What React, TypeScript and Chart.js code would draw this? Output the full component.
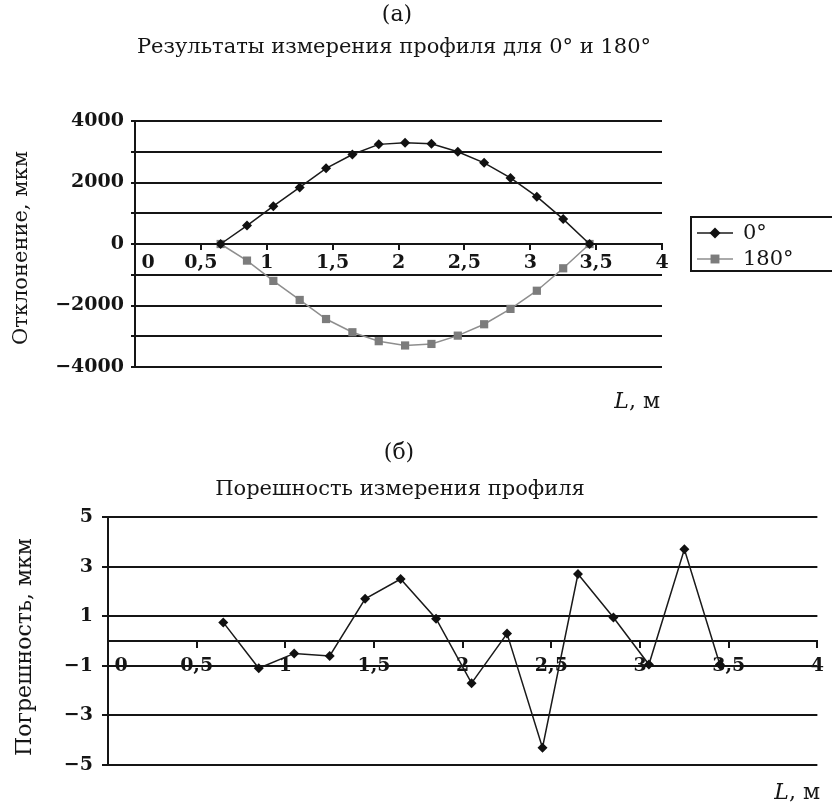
import React, { useEffect, useRef } from 'react';
import { Chart, registerables } from 'chart.js';

Chart.register(...registerables);

// ---- data ----
const L_VALUES = [0.65, 0.85, 1.05, 1.25, 1.45, 1.65, 1.85, 2.05, 2.25, 2.45, 2.65, 2.85, 3.05, 3.25, 3.45];
const DEV_0 = [0, 600, 1230, 1840, 2460, 2910, 3240, 3290, 3260, 3000, 2640, 2150, 1540, 810, 0];
const DEV_180 = [0, -540, -1200, -1820, -2440, -2870, -3160, -3300, -3250, -2980, -2610, -2110, -1520, -790, 0];
const ERR = [0.75, -1.1, -0.5, -0.6, 1.7, 2.5, 0.9, -1.7, 0.3, -4.3, 2.7, 0.95, -0.95, 3.7, -0.95];
const SERIES_LABELS = ['0°', '180°'];
const TOP_Y_LABELS = [4000, 2000, 0, -2000, -4000];
const BOTTOM_Y_LABELS = [5, 3, 1, 0, -1, -3, -5];
const TITLE_A = 'Результаты измерения профиля для 0° и 180°';
const TITLE_B = 'Порешность измерения профиля';
const Y_TITLE_A = 'Отклонение, мкм';
const Y_TITLE_B = 'Погрешность, мкм';

const FAMILY = '"DejaVu Serif", "Liberation Serif", serif';
const INK = '#151515';

const fmt = (v: number) => {
  const s = String(Math.abs(v)).replace('.', ',');
  return v < 0 ? '\u2212' + s : s;
};
const xTickLabel = (v: number) => (v === 0 ? '\u2007\u20070' : fmt(v));

type Part = { text: string; italic?: boolean };
type TextItem = { parts: Part[]; x: number; y: number; size: number; align?: 'left' | 'center' | 'right'; rotate?: number; family?: string };

const textPlugin = {
  id: 'textLayer',
  afterDraw(chart: any, _args: any, opts: any) {
    const ctx: CanvasRenderingContext2D = chart.ctx;
    const items: TextItem[] = (opts && opts.items) || [];
    for (const it of items) {
      ctx.save();
      ctx.translate(it.x, it.y);
      if (it.rotate) ctx.rotate(it.rotate);
      ctx.textBaseline = 'middle';
      ctx.textAlign = 'left';
      ctx.fillStyle = INK;
      const fam = it.family || FAMILY;
      const fontOf = (p: Part) => `${p.italic ? 'italic ' : ''}${it.size}px ${fam}`;
      const widths = it.parts.map((p) => {
        ctx.font = fontOf(p);
        return ctx.measureText(p.text).width;
      });
      const total = widths.reduce((a, b) => a + b, 0);
      let x = it.align === 'left' ? 0 : it.align === 'right' ? -total : -total / 2;
      it.parts.forEach((p, i) => {
        ctx.font = fontOf(p);
        ctx.fillText(p.text, x, 0);
        x += widths[i];
      });
      ctx.restore();
    }
  },
};

function drawMarker(ctx: CanvasRenderingContext2D, style: string, x: number, y: number, r: number, color: string) {
  ctx.save();
  ctx.fillStyle = color;
  ctx.beginPath();
  if (style === 'rectRot') {
    ctx.moveTo(x, y - r);
    ctx.lineTo(x + r, y);
    ctx.lineTo(x, y + r);
    ctx.lineTo(x - r, y);
    ctx.closePath();
  } else {
    const h = r * Math.SQRT1_2;
    ctx.rect(x - h, y - h, 2 * h, 2 * h);
  }
  ctx.fill();
  ctx.restore();
}

const boxLegendPlugin = {
  id: 'boxLegend',
  afterDraw(chart: any, _args: any, opts: any) {
    if (!opts || !opts.display) return;
    const ctx: CanvasRenderingContext2D = chart.ctx;
    ctx.save();
    ctx.strokeStyle = INK;
    ctx.lineWidth = 2;
    ctx.strokeRect(opts.left, opts.top, opts.width, opts.height);
    chart.data.datasets.forEach((ds: any, i: number) => {
      const y = opts.rowY[i];
      ctx.strokeStyle = ds.borderColor;
      ctx.lineWidth = ds.borderWidth;
      ctx.beginPath();
      ctx.moveTo(opts.lineX1, y);
      ctx.lineTo(opts.lineX2, y);
      ctx.stroke();
      drawMarker(ctx, ds.pointStyle, (opts.lineX1 + opts.lineX2) / 2, y, ds.pointRadius + 0.5, ds.pointBackgroundColor);
      ctx.fillStyle = INK;
      ctx.font = `${opts.size}px ${FAMILY}`;
      ctx.textBaseline = 'middle';
      ctx.textAlign = 'left';
      ctx.fillText(ds.label, opts.textX, y + 1);
    });
    ctx.restore();
  },
};

const tickFont = { family: FAMILY, size: 19, weight: 'bold' as const };

function makeTopConfig(): any {
  return {
    type: 'line',
    data: {
      datasets: [
        {
          label: SERIES_LABELS[0],
          data: L_VALUES.map((x, i) => ({ x, y: DEV_0[i] })),
          borderColor: '#1a1a1a',
          borderWidth: 1.5,
          pointStyle: 'rectRot',
          pointRadius: 5,
          pointBackgroundColor: '#111',
          pointBorderColor: '#111',
          pointBorderWidth: 0,
          tension: 0,
        },
        {
          label: SERIES_LABELS[1],
          data: L_VALUES.map((x, i) => ({ x, y: DEV_180[i] })),
          borderColor: '#8e8e8e',
          borderWidth: 1.5,
          pointStyle: 'rect',
          pointRadius: 5.8,
          pointBackgroundColor: '#7c7c7c',
          pointBorderColor: '#7c7c7c',
          pointBorderWidth: 0,
          tension: 0,
        },
      ],
    },
    options: {
      responsive: false,
      animation: false,
      events: [],
      layout: { padding: { left: 0, top: 121, right: 170, bottom: 53 } },
      plugins: {
        legend: { display: false },
        tooltip: { enabled: false },
        textLayer: {
          items: [
            { parts: [{ text: '(а)' }], x: 397, y: 15, size: 22 },
            { parts: [{ text: TITLE_A }], x: 394, y: 48, size: 21 },
            { parts: [{ text: Y_TITLE_A }], x: 22, y: 248, size: 21, rotate: -Math.PI / 2 },
            { parts: [{ text: 'L', italic: true }, { text: ', м' }], x: 660, y: 402, size: 22, align: 'right' },
          ],
        },
        boxLegend: {
          display: true,
          left: 691,
          top: 217,
          width: 160,
          height: 54,
          rowY: [233, 259],
          lineX1: 697,
          lineX2: 733,
          textX: 743,
          size: 21,
        },
      },
      scales: {
        x: {
          type: 'linear',
          min: 0,
          max: 4,
          position: { y: 0 },
          ticks: {
            stepSize: 0.5,
            autoSkip: false,
            maxRotation: 0,
            padding: 3,
            color: INK,
            font: tickFont,
            callback: (v: number) => xTickLabel(v),
          },
          grid: { drawOnChartArea: false, drawTicks: true, tickLength: 5, color: INK, lineWidth: 2 },
          border: { display: true, color: INK, width: 2 },
        },
        y: {
          type: 'linear',
          min: -4000,
          max: 4000,
          ticks: {
            stepSize: 1000,
            padding: 7,
            color: INK,
            font: tickFont,
            callback: (v: number) => (TOP_Y_LABELS.includes(v) ? fmt(v) : ''),
          },
          grid: { color: INK, lineWidth: 2, tickLength: 4 },
          border: { display: true, color: INK, width: 2 },
          afterFit: (s: any) => {
            s.width = 135;
          },
        },
      },
    },
    plugins: [textPlugin, boxLegendPlugin],
  };
}

function makeBottomConfig(): any {
  return {
    type: 'line',
    data: {
      datasets: [
        {
          label: 'Погрешность',
          data: L_VALUES.map((x, i) => ({ x, y: ERR[i] })),
          borderColor: '#1a1a1a',
          borderWidth: 1.5,
          pointStyle: 'rectRot',
          pointRadius: 5,
          pointBackgroundColor: '#111',
          pointBorderColor: '#111',
          pointBorderWidth: 0,
          tension: 0,
        },
      ],
    },
    options: {
      responsive: false,
      animation: false,
      events: [],
      layout: { padding: { left: 0, top: 97, right: 14, bottom: 38 } },
      plugins: {
        legend: { display: false },
        tooltip: { enabled: false },
        textLayer: {
          items: [
            { parts: [{ text: '(б)' }], x: 399, y: 33, size: 22 },
            { parts: [{ text: TITLE_B }], x: 400, y: 70, size: 21 },
            { parts: [{ text: Y_TITLE_B }], x: 25, y: 227, size: 22, rotate: -Math.PI / 2 },
            { parts: [{ text: 'L', italic: true }, { text: ', м' }], x: 820, y: 373, size: 22, align: 'right' },
          ],
        },
      },
      scales: {
        x: {
          type: 'linear',
          min: 0,
          max: 4,
          position: { y: 0 },
          ticks: {
            stepSize: 0.5,
            autoSkip: false,
            maxRotation: 0,
            padding: 8,
            color: INK,
            font: tickFont,
            callback: (v: number) => xTickLabel(v),
          },
          grid: { drawOnChartArea: false, drawTicks: true, tickLength: 6, color: INK, lineWidth: 2 },
          border: { display: true, color: INK, width: 2 },
        },
        y: {
          type: 'linear',
          min: -5,
          max: 5,
          ticks: {
            stepSize: 1,
            padding: 9,
            color: INK,
            font: tickFont,
            callback: (v: number) => (BOTTOM_Y_LABELS.includes(v) ? fmt(v) : ''),
          },
          grid: { color: INK, lineWidth: 2, tickLength: 6 },
          border: { display: true, color: INK, width: 2 },
          afterFit: (s: any) => {
            s.width = 108;
          },
        },
      },
    },
    plugins: [textPlugin],
  };
}

function ChartCanvas({ width, height, make }: { width: number; height: number; make: () => any }) {
  const ref = useRef<HTMLCanvasElement | null>(null);
  useEffect(() => {
    if (!ref.current) return;
    const chart = new Chart(ref.current, make());
    return () => chart.destroy();
  }, [make]);
  return <canvas ref={ref} width={width} height={height} style={{ display: 'block', width, height }} />;
}

export default function App() {
  useEffect(() => {
    document.body.style.margin = '0';
    document.body.style.background = '#fff';
  }, []);
  return (
    <div style={{ width: 832, height: 803, background: '#fff', overflow: 'hidden' }}>
      <ChartCanvas width={832} height={420} make={makeTopConfig} />
      <ChartCanvas width={832} height={383} make={makeBottomConfig} />
    </div>
  );
}
